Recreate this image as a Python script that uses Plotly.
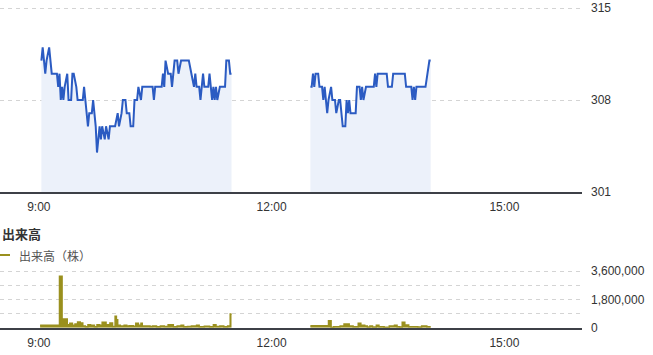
import plotly.graph_objects as go

DAY = "2024-01-01 "

# ---- price data (morning / afternoon sessions) ----
am_time = ["09:02", "09:03", "09:05", "09:06", "09:08", "09:10", "09:14", "09:15", "09:16", "09:17",
           "09:18", "09:19", "09:20", "09:22", "09:23", "09:25", "09:26", "09:27", "09:29", "09:30",
           "09:34", "09:35", "09:36", "09:38", "09:39", "09:41", "09:42", "09:43", "09:44", "09:45",
           "09:47", "09:48", "09:49", "09:51", "09:52", "09:54", "09:55", "09:59", "10:01", "10:02",
           "10:04", "10:05", "10:07", "10:08", "10:10", "10:11", "10:13", "10:14", "10:16", "10:17",
           "10:19", "10:20", "10:28", "10:29", "10:30", "10:35", "10:36", "10:37", "10:38", "10:40",
           "10:42", "10:43", "10:45", "10:47", "10:48", "10:50", "10:56", "10:58", "11:00", "11:01",
           "11:02", "11:04", "11:05", "11:07", "11:08", "11:11", "11:12", "11:13", "11:14", "11:15",
           "11:16", "11:17", "11:18", "11:20", "11:24", "11:25", "11:27", "11:28", "11:29"]
am_price = [311, 312, 310, 311, 312, 310, 310, 309, 310, 308,
            309, 308, 309, 310, 308, 308, 310, 310, 309, 308,
            308, 309, 308, 306, 307, 307, 308, 307, 306, 304,
            306, 305, 306, 305, 306, 305, 306, 306, 307, 306,
            307, 308, 308, 307, 307, 306, 306, 308, 308, 309,
            308, 309, 309, 308, 309, 309, 310, 309, 311, 310,
            310, 309, 311, 311, 310, 311, 311, 310, 309, 310,
            309, 309, 308, 310, 309, 309, 310, 309, 308, 309,
            308, 309, 308, 309, 309, 311, 311, 310, 310]

pm_time = ["12:30", "12:31", "12:32", "12:33", "12:34", "12:36", "12:37", "12:39", "12:40", "12:41",
           "12:42", "12:43", "12:44", "12:46", "12:47", "12:49", "12:50", "12:52", "12:53", "12:54",
           "12:55", "12:57", "12:58", "12:59", "13:00", "13:01", "13:05", "13:06", "13:08", "13:09",
           "13:10", "13:11", "13:13", "13:19", "13:20", "13:21", "13:22", "13:29", "13:30", "13:33",
           "13:34", "13:43", "13:44", "13:48", "13:49", "13:50", "13:51", "13:52", "13:59", "14:02",
           "14:03"]
pm_price = [309, 309, 310, 309, 310, 310, 309, 309, 308, 309,
            308, 307, 308, 309, 308, 308, 307, 308, 308, 307,
            306, 306, 308, 307, 308, 307, 307, 309, 309, 308,
            309, 308, 309, 309, 310, 309, 310, 310, 309, 309,
            310, 310, 309, 309, 308, 309, 308, 309, 309, 311,
            311]

# ---- volume data ----
am_vol_time = ["09:01", "09:16", "09:18", "09:19", "09:22", "09:24", "09:26", "09:28", "09:30", "09:32",
               "09:34", "09:36", "09:38", "09:40", "09:43", "09:45", "09:47", "09:49", "09:52", "09:53",
               "09:55", "09:57", "09:59", "10:00", "10:01", "10:03", "10:06", "10:08", "10:10", "10:13",
               "10:15", "10:17", "10:19", "10:20", "10:23", "10:26", "10:28", "10:31", "10:34", "10:37",
               "10:40", "10:41", "10:42", "10:44", "10:47", "10:50", "10:52", "10:55", "10:58", "11:02",
               "11:04", "11:08", "11:12", "11:15", "11:17", "11:20", "11:23", "11:26", "11:28", "11:29"]
am_vol = [150000, 3260000, 300000, 550000, 190000, 275000, 150000, 230000, 360000, 300000,
          110000, 60000, 190000, 150000, 60000, 190000, 150000, 340000, 150000, 190000,
          300000, 80000, 720000, 500000, 150000, 110000, 150000, 110000, 130000, 90000,
          275000, 150000, 275000, 100000, 106000, 80000, 106000, 60000, 100000, 80000,
          190000, 80000, 190000, 60000, 100000, 150000, 60000, 80000, 110000, 150000,
          60000, 90000, 60000, 190000, 80000, 106000, 60000, 100000, 870000, 870000]

pm_vol_time = ["12:30", "12:44", "12:46", "12:48", "12:53", "12:56", "13:00", "13:03", "13:07", "13:09",
               "13:12", "13:14", "13:16", "13:18", "13:21", "13:23", "13:27", "13:31", "13:35", "13:37",
               "13:39", "13:41", "13:43", "13:46", "13:49", "13:53", "13:56", "13:58", "14:00", "14:03"]
pm_vol = [127000, 445000, 21000, 64000, 106000, 233000, 106000, 64000, 275000, 150000,
          106000, 42000, 106000, 42000, 150000, 64000, 21000, 106000, 150000, 64000,
          42000, 340000, 170000, 64000, 64000, 42000, 106000, 106000, 64000, 64000]

x_ticks = ["09:00", "12:00", "15:00"]
x_tick_text = ["9:00", "12:00", "15:00"]
price_ticks = [301, 308, 315]
vol_ticks = [0, 900000, 1800000, 2700000, 3600000]
vol_tick_text = ["0", "", "1,800,000", "", "3,600,000"]

BLUE = "#2b5bc2"
FILL = "#ecf1fa"
OLIVE = "#9a901e"
GRID = "#d4d4d4"
AXIS = "#3d4047"
TXT = "#333333"
FONT = "Liberation Sans, Arial, Noto Sans CJK JP, sans-serif"

def ts(lst):
    return [DAY + t for t in lst]

fig = go.Figure()
for t, p in ((am_time, am_price), (pm_time, pm_price)):
    fig.add_trace(go.Scatter(x=ts(t), y=p, mode="lines", line=dict(color=BLUE, width=2),
                             fill="tozeroy", fillcolor=FILL, xaxis="x", yaxis="y", showlegend=False,
                             hoverinfo="skip"))
for t, v in ((am_vol_time, am_vol), (pm_vol_time, pm_vol)):
    fig.add_trace(go.Scatter(x=ts(t), y=v, mode="lines", line=dict(color=OLIVE, width=1.5, shape="hv"),
                             fill="tozeroy", fillcolor=OLIVE, xaxis="x2", yaxis="y2", showlegend=False,
                             hoverinfo="skip"))

H = 355.0
W = 653.0
def py(pix):
    return 1 - pix / H

xr = [DAY + "08:30", DAY + "16:00"]
xdom = [0, 582 / W]
common_x = dict(type="date", range=xr, domain=xdom, tickvals=ts(x_ticks), ticktext=x_tick_text,
                showgrid=False, showline=True, linecolor=AXIS, linewidth=1.5, ticks="",
                ticklabelstandoff=3, automargin=False,
                tickfont=dict(size=12, color=TXT, family=FONT), zeroline=False, fixedrange=True)
common_y = dict(side="right", showgrid=True, gridcolor=GRID, griddash="4px,4px", gridwidth=1,
                zeroline=False, ticks="", ticklabelstandoff=8, automargin=False,
                tickfont=dict(size=12, color=TXT, family=FONT))

# headroom of 4px above the top tick so its gridline is drawn inside the plot area
HEAD = 4
p_top = 315 + 14 * HEAD / 184.0
v_top = 3600000 * (1 + HEAD / 56.7)

fig.update_layout(
    width=653, height=355,
    margin=dict(l=0, r=0, t=0, b=0, autoexpand=False),
    paper_bgcolor="white", plot_bgcolor="white",
    font=dict(family=FONT, color=TXT, size=12),
    xaxis=dict(anchor="y", **common_x),
    xaxis2=dict(anchor="y2", **common_x),
    yaxis=dict(domain=[py(192), py(8 - HEAD)], range=[301, p_top], anchor="x",
               tickvals=price_ticks, **common_y),
    yaxis2=dict(domain=[py(327.7), py(271 - HEAD)], range=[0, v_top], anchor="x2",
                tickvals=vol_ticks, ticktext=vol_tick_text, **common_y),
    annotations=[
        dict(text="<b>出来高</b>", x=0, y=py(233), xref="paper", yref="paper", xanchor="left",
             yanchor="middle", showarrow=False, font=dict(size=13, color=TXT, family="Noto Sans CJK JP")),
        dict(text="出来高（株）", x=17 / W, y=py(255), xref="paper", yref="paper", xanchor="left",
             yanchor="middle", showarrow=False, font=dict(size=12, color="#555555", family="Noto Sans CJK JP")),
    ],
    shapes=[dict(type="line", xref="paper", yref="paper", x0=0, x1=10 / W, y0=py(255), y1=py(255),
                 line=dict(color=OLIVE, width=2))],
)

fig.write_html("out.html")
